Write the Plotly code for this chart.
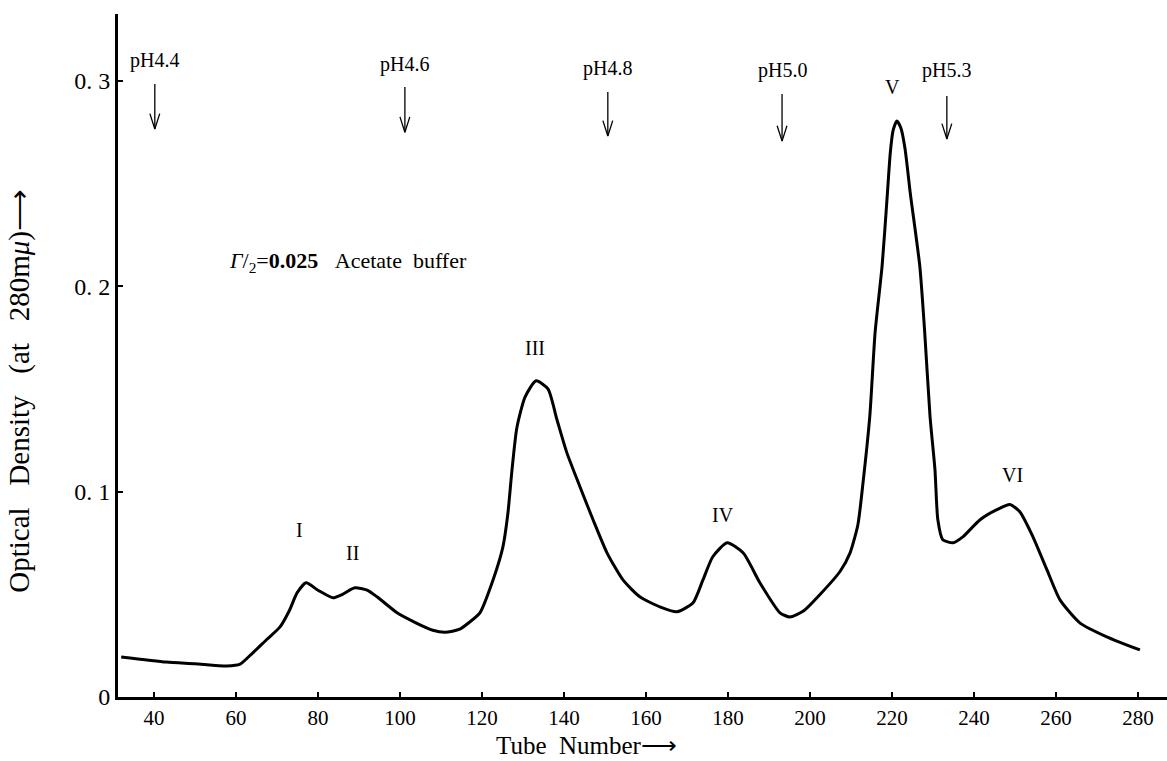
import plotly.graph_objects as go

# ---- data ----
tube = [32, 43, 50, 57.8, 61, 64.1, 67.5, 70.7, 73, 74.9, 77.1, 80, 83.7, 86, 89, 92, 94.4,
        99.3, 104, 108, 111, 114.6, 117, 119.5, 122.7, 125.1, 126.3, 127.3, 128.5, 130.5,
        133.2, 136.1, 138.3, 140.7, 143.9, 147.1, 150.5, 154.4, 158.5, 163.4, 167.6, 171.5,
        173.9, 176.3, 179.8, 183.7, 187.8, 192.7, 195.1, 198.5, 202.4, 207.3, 209.8, 211.7,
        212.9, 214.6, 215.9, 217.6, 218.8, 219.6, 220.3, 221.2, 222.2, 223.2, 224.5, 226.8,
        228, 229.3, 230.5, 231.2, 232.4, 234.9, 237.3, 241.5, 245.6, 248.8, 251.2, 254.4,
        257.8, 261, 265.9, 272.4, 280.5]
od = [0.0195, 0.017, 0.0162, 0.0151, 0.016, 0.0215, 0.028, 0.034, 0.042, 0.0507, 0.0556,
      0.052, 0.0483, 0.050, 0.0532, 0.052, 0.0488, 0.041, 0.036, 0.0325, 0.0315, 0.033,
      0.0365, 0.041, 0.057, 0.073, 0.089, 0.110, 0.131, 0.146, 0.154, 0.150, 0.135, 0.119,
      0.1024, 0.0863, 0.0702, 0.057, 0.0488, 0.0439, 0.0415, 0.0459, 0.057, 0.0683, 0.0751,
      0.0702, 0.0556, 0.041, 0.039, 0.042, 0.0498, 0.061, 0.0702, 0.0839, 0.1034, 0.1366,
      0.1776, 0.2098, 0.2424, 0.265, 0.276, 0.2805, 0.277, 0.267, 0.245, 0.2098, 0.1776,
      0.1366, 0.1107, 0.0863, 0.0766, 0.0751, 0.078, 0.0863, 0.0912, 0.0937, 0.0902, 0.078,
      0.062, 0.0473, 0.036, 0.0293, 0.0229]

x_ticks = [40, 60, 80, 100, 120, 140, 160, 180, 200, 220, 240, 260, 280]
y_ticks = [0, 0.1, 0.2, 0.3]
y_ticktext = ["0", "0.\u00a01", "0.\u00a02", "0.\u00a03"]

ph_labels = ["pH4.4", "pH4.6", "pH4.8", "pH5.0", "pH5.3"]
ph_x = [40.2, 101.2, 150.7, 193.2, 233.4]
ph_label_y = [0.310, 0.308, 0.306, 0.305, 0.305]
ph_arrow_top = [0.2985, 0.297, 0.2946, 0.2937, 0.2927]
ph_arrow_bottom = [0.2766, 0.275, 0.2732, 0.2707, 0.2717]

peak_labels = ["I", "II", "III", "IV", "V", "VI"]
peak_x = [75.6, 88.5, 132.9, 178.8, 220.2, 249.3]
peak_y = [0.0815, 0.070, 0.170, 0.0888, 0.297, 0.108]

buffer_text = "<i>Γ</i>/<sub>2</sub>=<b>0.025</b>\u00a0\u00a0\u00a0Acetate\u00a0\u00a0buffer"
buffer_x = 57.8
buffer_y = 0.2117

x_title = "Tube\u00a0\u00a0Number⟶"
y_title = "Optical\u00a0\u00a0\u00a0Density\u00a0\u00a0\u00a0(at\u00a0\u00a0\u00a0280m<i>μ</i>)⟶"

FONT = "Liberation Serif"

fig = go.Figure()
fig.add_trace(go.Scatter(x=tube, y=od, mode="lines",
                         line=dict(color="black", width=3, shape="spline", smoothing=0.6),
                         hoverinfo="skip", showlegend=False))

# pH arrows (shaft + open V head)
for x, top, bot in zip(ph_x, ph_arrow_top, ph_arrow_bottom):
    fig.add_trace(go.Scatter(
        x=[x, x, None, x - 1.2, x, x + 1.2],
        y=[top, bot, None, bot + 0.0075, bot, bot + 0.0075],
        mode="lines", line=dict(color="black", width=1.3),
        hoverinfo="skip", showlegend=False))

annotations = []
for t, x, y in zip(ph_labels, ph_x, ph_label_y):
    annotations.append(dict(x=x, y=y, xref="x", yref="y", text=t, showarrow=False,
                            font=dict(family=FONT, size=20, color="black")))
for t, x, y in zip(peak_labels, peak_x, peak_y):
    annotations.append(dict(x=x, y=y, xref="x", yref="y", text=t, showarrow=False,
                            font=dict(family=FONT, size=20, color="black")))
annotations.append(dict(x=buffer_x, y=buffer_y, xref="x", yref="y", text=buffer_text,
                        showarrow=False, xanchor="left",
                        font=dict(family=FONT, size=22, color="black")))
annotations.append(dict(x=0.447, y=-0.071, xref="paper", yref="paper",
                        text=x_title, showarrow=False, yanchor="middle",
                        font=dict(family=FONT, size=25, color="black")))
annotations.append(dict(x=-0.094, y=0.449, xref="paper", yref="paper",
                        text=y_title, showarrow=False,
                        textangle=-90, xanchor="center", yanchor="middle",
                        font=dict(family=FONT, size=29, color="black")))

fig.update_layout(
    width=1167, height=761,
    margin=dict(l=118, r=0, t=14, b=64),
    paper_bgcolor="white", plot_bgcolor="white",
    annotations=annotations,
    xaxis=dict(range=[31.22, 287.1], tickvals=x_ticks, ticks="inside", ticklen=5,
               tickwidth=2, tickcolor="black", showline=True, linewidth=3,
               linecolor="black", showgrid=False, zeroline=False,
               tickfont=dict(family=FONT, size=21, color="black")),
    yaxis=dict(range=[0, 0.3326], tickvals=y_ticks, ticktext=y_ticktext, ticks="inside",
               ticklen=5, tickwidth=2, tickcolor="black", showline=True, linewidth=3,
               linecolor="black", showgrid=False, zeroline=False,
               tickfont=dict(family=FONT, size=24, color="black")),
)

fig.write_html("out.html")
